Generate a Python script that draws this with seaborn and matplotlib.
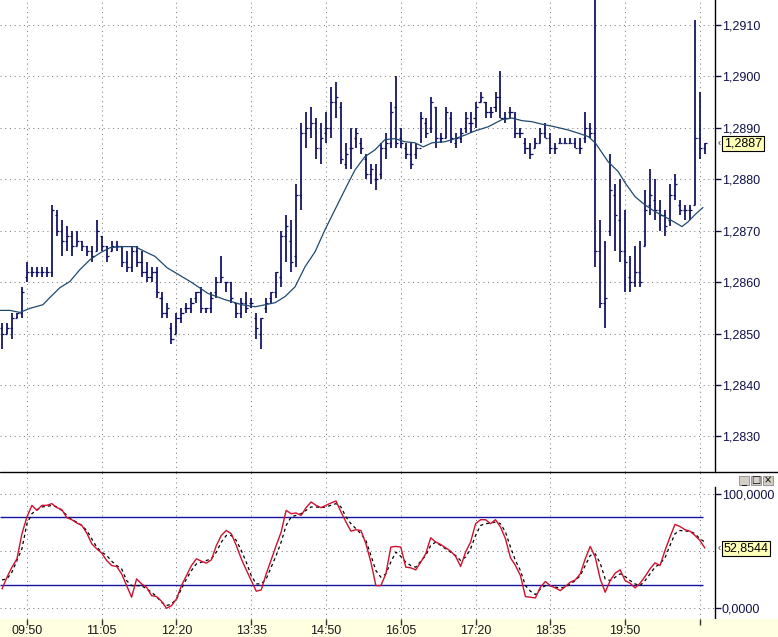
import numpy as np
import pandas as pd
import matplotlib
matplotlib.use("Agg")
import matplotlib.pyplot as plt
import matplotlib.transforms as mtrans
from matplotlib.lines import Line2D
from matplotlib.patches import Rectangle
from matplotlib.ticker import FuncFormatter
import seaborn as sns

# ---------------- data ----------------
highs = [
    1.2852, 1.2852, 1.2854, 1.2854, 1.2859, 1.2864, 1.2863, 1.2863, 1.2863, 1.2863,
    1.2875, 1.2874, 1.2872, 1.2871, 1.2870, 1.2870, 1.2868, 1.2867, 1.2867, 1.2872,
    1.2869, 1.2867, 1.2868, 1.2868, 1.2867, 1.2866, 1.2867, 1.2867, 1.2866, 1.2864,
    1.2863, 1.2863, 1.2858, 1.2856, 1.2852, 1.2854, 1.2855, 1.2856, 1.2857, 1.2858,
    1.2859, 1.2855, 1.2858, 1.2861, 1.2865, 1.2860, 1.2860, 1.2856, 1.2857, 1.2858,
    1.2857, 1.2854, 1.2853, 1.2857, 1.2858, 1.2862, 1.2870, 1.2873, 1.2872, 1.2879,
    1.2891, 1.2893, 1.2894, 1.2892, 1.2891, 1.2893, 1.2898, 1.2899, 1.2895, 1.2887,
    1.2890, 1.2890, 1.2888, 1.2885, 1.2883, 1.2883, 1.2887, 1.2889, 1.2895, 1.2900,
    1.2890, 1.2887, 1.2887, 1.2887, 1.2893, 1.2892, 1.2896, 1.2894, 1.2889, 1.2894,
    1.2893, 1.2889, 1.2890, 1.2893, 1.2893, 1.2895, 1.2897, 1.2895, 1.2894, 1.2897,
    1.2901, 1.2893, 1.2894, 1.2893, 1.2890, 1.2888, 1.2887, 1.2888, 1.2890, 1.2891,
    1.2889, 1.2887, 1.2888, 1.2888, 1.2888, 1.2888, 1.2888, 1.2893, 1.2891, 1.2918,
    1.2872, 1.2868, 1.2885, 1.2879, 1.2880, 1.2874, 1.2865, 1.2867, 1.2868, 1.2878,
    1.2882, 1.2880, 1.2876, 1.2874, 1.2879, 1.2881, 1.2876, 1.2875, 1.2875, 1.2911,
    1.2897, 1.2887,
]
lows = [
    1.2847, 1.2850, 1.2849, 1.2853, 1.2853, 1.2860, 1.2861, 1.2861, 1.2861, 1.2861,
    1.2861, 1.2869, 1.2865, 1.2866, 1.2865, 1.2867, 1.2866, 1.2865, 1.2864, 1.2866,
    1.2866, 1.2864, 1.2866, 1.2866, 1.2863, 1.2862, 1.2862, 1.2863, 1.2861, 1.2860,
    1.2860, 1.2857, 1.2853, 1.2853, 1.2848, 1.2850, 1.2852, 1.2854, 1.2854, 1.2856,
    1.2854, 1.2854, 1.2854, 1.2857, 1.2860, 1.2858, 1.2856, 1.2853, 1.2853, 1.2854,
    1.2855, 1.2849, 1.2847, 1.2854, 1.2856, 1.2857, 1.2859, 1.2864, 1.2862, 1.2863,
    1.2874, 1.2886, 1.2888, 1.2884, 1.2883, 1.2887, 1.2888, 1.2892, 1.2883, 1.2882,
    1.2882, 1.2886, 1.2885, 1.2880, 1.2879, 1.2878, 1.2880, 1.2884, 1.2886, 1.2886,
    1.2886, 1.2884, 1.2882, 1.2884, 1.2887, 1.2888, 1.2889, 1.2886, 1.2887, 1.2888,
    1.2887, 1.2886, 1.2887, 1.2889, 1.2889, 1.2890, 1.2895, 1.2892, 1.2892, 1.2893,
    1.2892, 1.2891, 1.2892, 1.2888, 1.2888, 1.2885, 1.2884, 1.2886, 1.2887, 1.2888,
    1.2885, 1.2885, 1.2887, 1.2887, 1.2887, 1.2886, 1.2885, 1.2887, 1.2888, 1.2863,
    1.2855, 1.2851, 1.2869, 1.2866, 1.2864, 1.2858, 1.2858, 1.2859, 1.2859, 1.2867,
    1.2873, 1.2872, 1.2870, 1.2869, 1.2871, 1.2876, 1.2873, 1.2872, 1.2872, 1.2875,
    1.2884, 1.2885,
]
opens = [
    1.2851, 1.2850, 1.2851, 1.2853, 1.2854, 1.2861, 1.2862, 1.2862, 1.2862, 1.2862,
    1.2862, 1.2873, 1.2870, 1.2868, 1.2869, 1.2867, 1.2868, 1.2867, 1.2866, 1.2866,
    1.2869, 1.2867, 1.2866, 1.2867, 1.2867, 1.2864, 1.2863, 1.2866, 1.2864, 1.2862,
    1.2861, 1.2862, 1.2857, 1.2854, 1.2851, 1.2850, 1.2853, 1.2855, 1.2855, 1.2857,
    1.2858, 1.2855, 1.2855, 1.2858, 1.2860, 1.2860, 1.2860, 1.2856, 1.2854, 1.2856,
    1.2856, 1.2853, 1.2850, 1.2855, 1.2857, 1.2858, 1.2861, 1.2869, 1.2868, 1.2865,
    1.2877, 1.2889, 1.2890, 1.2891, 1.2886, 1.2889, 1.2890, 1.2895, 1.2894, 1.2883,
    1.2886, 1.2888, 1.2887, 1.2884, 1.2881, 1.2880, 1.2881, 1.2886, 1.2887, 1.2894,
    1.2888, 1.2886, 1.2885, 1.2885, 1.2886, 1.2891, 1.2890, 1.2894, 1.2888, 1.2888,
    1.2892, 1.2887, 1.2888, 1.2890, 1.2891, 1.2892, 1.2895, 1.2895, 1.2893, 1.2894,
    1.2896, 1.2892, 1.2893, 1.2892, 1.2889, 1.2887, 1.2886, 1.2886, 1.2887, 1.2889,
    1.2888, 1.2886, 1.2887, 1.2887, 1.2887, 1.2887, 1.2886, 1.2888, 1.2890, 1.2889,
    1.2866, 1.2856, 1.2870, 1.2877, 1.2872, 1.2866, 1.2861, 1.2860, 1.2862, 1.2867,
    1.2875, 1.2876, 1.2874, 1.2873, 1.2872, 1.2877, 1.2875, 1.2874, 1.2874, 1.2875,
    1.2888, 1.2886,
]
closes = [
    1.2850, 1.2851, 1.2853, 1.2854, 1.2858, 1.2862, 1.2862, 1.2862, 1.2862, 1.2862,
    1.2874, 1.2870, 1.2868, 1.2869, 1.2867, 1.2868, 1.2867, 1.2866, 1.2865, 1.2870,
    1.2867, 1.2865, 1.2867, 1.2867, 1.2864, 1.2863, 1.2866, 1.2864, 1.2862, 1.2861,
    1.2862, 1.2858, 1.2854, 1.2855, 1.2849, 1.2853, 1.2854, 1.2855, 1.2856, 1.2858,
    1.2855, 1.2855, 1.2857, 1.2860, 1.2861, 1.2860, 1.2857, 1.2854, 1.2856, 1.2855,
    1.2856, 1.2851, 1.2853, 1.2856, 1.2858, 1.2862, 1.2869, 1.2871, 1.2864, 1.2877,
    1.2889, 1.2890, 1.2891, 1.2886, 1.2888, 1.2890, 1.2895, 1.2896, 1.2884, 1.2885,
    1.2886, 1.2889, 1.2886, 1.2881, 1.2882, 1.2880, 1.2886, 1.2887, 1.2893, 1.2887,
    1.2887, 1.2885, 1.2883, 1.2886, 1.2892, 1.2889, 1.2895, 1.2888, 1.2888, 1.2893,
    1.2888, 1.2888, 1.2889, 1.2892, 1.2891, 1.2894, 1.2896, 1.2893, 1.2893, 1.2896,
    1.2892, 1.2892, 1.2893, 1.2889, 1.2889, 1.2886, 1.2885, 1.2887, 1.2889, 1.2888,
    1.2886, 1.2886, 1.2887, 1.2887, 1.2887, 1.2886, 1.2886, 1.2890, 1.2889, 1.2866,
    1.2856, 1.2857, 1.2878, 1.2873, 1.2866, 1.2864, 1.2860, 1.2862, 1.2860, 1.2874,
    1.2877, 1.2874, 1.2873, 1.2871, 1.2877, 1.2879, 1.2874, 1.2874, 1.2874, 1.2888,
    1.2886, 1.2887,
]

ma_idx = [
    -0.4, 1.6, 3.6, 5.6, 8.2, 9.6, 11.6, 13.6, 15.6, 17.7, 19.7, 21.7, 24.3, 26.7,
    28.3, 30.7, 33.1, 35.7, 38.1, 41.3, 44.7, 48.1, 50.8, 52.8, 54.8, 56.8, 58.8,
    60.8, 62.8, 64.8, 66.8, 68.8, 70.8, 72.8, 74.8, 76.8, 78.8, 80.8, 82.8, 84.5,
    86.3, 88.9, 90.9, 92.9, 94.9, 97.5, 100.3, 102.3, 104.3, 106.3, 107.9, 110.9,
    113.5, 115.5, 117.6, 119.0, 120.4, 121.6, 123.6, 125.0, 127.0, 129.0, 131.0,
    133.0, 135.0, 136.4, 137.6, 139.0, 140.6,
]
ma_vals = [
    1.28545, 1.28545, 1.28541, 1.28549, 1.28556, 1.28570, 1.28589, 1.28601, 1.28624,
    1.28644, 1.28657, 1.28667, 1.28669, 1.28669, 1.28661, 1.28650, 1.28628, 1.28613,
    1.28599, 1.28578, 1.28566, 1.28556, 1.28552, 1.28556, 1.28560, 1.28572, 1.28591,
    1.28630, 1.28659, 1.28702, 1.28741, 1.28780, 1.28818, 1.28844, 1.28857, 1.28877,
    1.28879, 1.28873, 1.28871, 1.28863, 1.28871, 1.28873, 1.28879, 1.28886, 1.28894,
    1.28902, 1.28916, 1.28919, 1.28914, 1.28912, 1.28908, 1.28902, 1.28896, 1.28890,
    1.28883, 1.28871, 1.28851, 1.28834, 1.28815, 1.28793, 1.28766, 1.28750, 1.28737,
    1.28727, 1.28716, 1.28708, 1.28717, 1.28731, 1.28745,
]

stoch_k = [
    17.0, 27.3, 36.1, 43.4, 65.4, 80.1, 90.3, 85.9, 90.3, 90.3,
    91.8, 88.3, 86.5, 79.5, 77.7, 74.8, 72.7, 66.0, 56.6, 52.2,
    48.4, 41.9, 37.5, 36.7, 30.2, 19.9, 9.7, 25.8, 21.4, 18.5,
    11.1, 10.3, 6.2, 0.0, 2.3, 8.2, 19.9, 28.7, 37.5, 43.4,
    41.3, 39.6, 42.5, 55.1, 63.9, 68.3, 65.4, 55.1, 43.4, 33.7,
    24.3, 15.0, 16.1, 30.2, 42.5, 55.1, 66.9, 85.9, 83.0, 83.6,
    81.5, 88.3, 93.3, 90.3, 88.3, 90.3, 92.4, 94.1, 84.5, 75.7,
    67.7, 68.9, 68.3, 56.6, 40.5, 19.9, 19.9, 30.2,
    53.7, 54.3, 53.7, 36.1, 35.5, 33.7, 40.5, 47.8, 61.9, 58.1,
    56.0, 53.1, 50.1, 45.5, 36.7, 49.3, 58.1, 74.2, 77.7, 77.7,
    74.2, 77.7, 71.3, 61.0, 44.3, 37.5, 28.7, 10.3, 9.7, 9.1,
    18.5, 23.5, 19.9, 17.9, 15.5, 19.1, 22.9, 24.9, 30.2, 43.4,
    54.3, 44.9, 25.8, 14.1, 24.3, 30.8, 33.7, 24.3, 22.0, 17.9,
    22.0, 27.9, 34.6, 39.9, 37.5, 50.7, 62.5, 73.6, 71.8, 68.9,
    67.7, 63.9, 59.5, 52.8544,
]
stoch_d = [
    24.9, 25.8, 31.7, 41.9, 52.2, 74.2, 83.0, 86.5, 88.9, 89.4,
    90.3, 88.9, 85.9, 81.5, 77.7, 75.7, 72.7, 68.3, 61.0, 53.7,
    49.3, 46.3, 41.3, 37.5, 34.6, 24.3, 19.9, 19.9, 19.9, 17.0,
    14.1, 10.3, 5.3, 2.3, 3.8, 8.2, 17.0, 25.8, 33.1, 39.0,
    40.5, 41.9, 43.4, 49.3, 58.1, 63.9, 63.9, 59.5, 50.7, 40.5,
    28.7, 21.4, 21.4, 25.8, 36.1, 46.3, 58.1, 72.7, 80.1, 81.5,
    83.0, 85.9, 88.9, 88.9, 88.3, 88.9, 90.3, 91.8, 88.9, 80.1,
    74.2, 69.8, 65.4, 59.5, 46.3, 33.1, 27.3, 30.2,
    40.5, 49.3, 45.5, 40.5, 37.5, 36.1, 41.3, 46.3, 55.1, 58.1,
    55.1, 52.2, 49.3, 46.3, 41.9, 44.9, 52.2, 63.9, 72.7, 74.2,
    74.8, 75.7, 74.2, 66.9, 53.7, 41.9, 33.1, 19.9, 15.0, 12.0,
    17.0, 19.9, 19.9, 18.5, 17.9, 18.5, 21.4, 24.3, 28.7, 37.5,
    46.3, 47.8, 39.6, 25.8, 24.3, 27.3, 30.2, 27.9, 24.3, 21.4,
    19.9, 24.3, 30.2, 36.1, 39.0, 44.3, 55.1, 65.4, 68.3, 67.7,
    67.7, 65.4, 61.0, 58.1,
]

price_ticks = [1.2830, 1.2840, 1.2850, 1.2860, 1.2870, 1.2880, 1.2890, 1.2900, 1.2910]
osc_ticks = [0, 100]
osc_grid = [0, 50, 100]
osc_levels = [20, 80]
time_idx = [5, 20, 35, 50, 65, 80, 95, 110, 125, 140]
time_labels = ["09:50", "11:05", "12:20", "13:35", "14:50", "16:05", "17:20", "18:35", "19:50", ""]
last_price = 1.2887
last_k = 52.8544

# ---------------- styling ----------------
sns.set_theme(style="white")
plt.rcParams["font.family"] = ["Liberation Sans", "DejaVu Sans"]
plt.rcParams["axes.linewidth"] = 1.0

W, H = 778, 637
BAR = "#0b0b62"
MA = "#1f4a70"
AXTXT = "#10104a"
GRID = "#808080"
dot = (0, (1, 3.5))

fig = plt.figure(figsize=(W / 100, H / 100), dpi=100)
fig.patch.set_facecolor("white")

x_lo = (0 - 2) / 4.985
x_hi = (715 - 2) / 4.985
x_hi_full = (778 - 2) / 4.985

def fy(px):
    return 1 - px / H

ax1 = fig.add_axes([0, fy(472), 715 / W, 472 / H])
ax2 = fig.add_axes([0, fy(619), 715 / W, 147 / H])
ax3 = fig.add_axes([0, 0, 1, 18 / H])

comma_fmt = FuncFormatter(lambda v, p: f"{v:.4f}".replace(".", ","))

# ---- main price panel ----
ax1.set_xlim(x_lo, x_hi)
ax1.set_ylim(1.282307, 1.291486)
for t in price_ticks:
    ax1.axhline(t, color=GRID, lw=0.75, ls=dot, zorder=0)
for t in time_idx:
    ax1.axvline(t, color=GRID, lw=0.75, ls=dot, zorder=0)

bars = np.arange(len(highs))
ax1.vlines(bars, lows, highs, color=BAR, lw=1.25, zorder=3)
ax1.hlines(opens, bars - 0.42, bars, color=BAR, lw=0.9, zorder=3)
ax1.hlines(closes, bars, bars + 0.42, color=BAR, lw=0.9, zorder=3)

sns.lineplot(x=ma_idx, y=ma_vals, ax=ax1, color=MA, lw=0.9, sort=False, zorder=4)

ax1.set_yticks(price_ticks)
ax1.yaxis.set_major_formatter(comma_fmt)
ax1.yaxis.tick_right()
ax1.tick_params(axis="y", right=True, left=False, length=4, width=1, color=AXTXT,
                labelcolor=AXTXT, labelsize=9, pad=1)
ax1.set_xticks([])
for s in ["top", "left", "bottom"]:
    ax1.spines[s].set_visible(False)
ax1.spines["right"].set_color("black")
ax1.set_xlabel("")
ax1.set_ylabel("")

tr1 = mtrans.blended_transform_factory(ax1.transAxes, ax1.transData)
ax1.text(1.0125, last_price, "1,2887", transform=tr1, ha="left", va="center",
         fontsize=9, color="black", clip_on=False, zorder=10,
         bbox=dict(boxstyle="square,pad=0.12", fc="#FFFFB8", ec="black", lw=0.8))
ax1.text(1.003, last_price, "\u2039", transform=tr1, ha="left", va="center",
         fontsize=7, color="#333333", clip_on=False)

# ---- oscillator panel ----
ax2.set_xlim(x_lo, x_hi)
ax2.set_ylim(-9.39, 119.56)
for t in osc_grid:
    ax2.axhline(t, color=GRID, lw=0.75, ls=dot, zorder=0)
for t in time_idx:
    ax2.axvline(t, color=GRID, lw=0.75, ls=dot, zorder=0)
ax2.hlines(osc_levels, x_lo, 140.6, color="#1414a0", lw=1.0, zorder=2)

kidx = np.arange(len(stoch_k))
sns.lineplot(x=kidx, y=stoch_d, ax=ax2, color="black", lw=0.9,
             linestyle=(0, (2.5, 2.5)), zorder=3)
sns.lineplot(x=kidx, y=stoch_k, ax=ax2, color="#d0102e", lw=1.0, zorder=4)

ax2.set_yticks(osc_ticks)
ax2.yaxis.set_major_formatter(comma_fmt)
ax2.yaxis.tick_right()
ax2.tick_params(axis="y", right=True, left=False, length=4, width=1, color=AXTXT,
                labelcolor=AXTXT, labelsize=9, pad=1)
ax2.set_xticks([])
for s in ["top", "left", "bottom"]:
    ax2.spines[s].set_visible(False)
ax2.spines["right"].set_color("black")
ax2.spines["right"].set_bounds(-9.39, 106.4)
ax2.set_xlabel("")
ax2.set_ylabel("")

tr2 = mtrans.blended_transform_factory(ax2.transAxes, ax2.transData)
ax2.text(1.0125, last_k, "52,8544", transform=tr2, ha="left", va="center",
         fontsize=9, color="black", clip_on=False, zorder=10,
         bbox=dict(boxstyle="square,pad=0.12", fc="#FFFFB8", ec="black", lw=0.8))
ax2.text(1.003, last_k, "\u2039", transform=tr2, ha="left", va="center",
         fontsize=7, color="#333333", clip_on=False)

# ---- time strip ----
ax3.set_facecolor("#FFFFE1")
ax3.set_xlim(x_lo, x_hi_full)
ax3.set_ylim(0, 1)
ax3.set_xticks(time_idx)
ax3.set_xticklabels([])
ax3.set_yticks([])
ax3.tick_params(axis="x", top=True, bottom=False, direction="in", length=4.5,
                width=1, color="#333333", labelbottom=False)
for s in ax3.spines.values():
    s.set_visible(False)
for t, lab in zip(time_idx, time_labels):
    ax3.text(t, 0.64, lab, ha="center", va="top", fontsize=9, color="#1a1a1a")

# separator line between panels
fig.add_artist(Line2D([0, 1], [fy(472), fy(472)], transform=fig.transFigure,
                      color="black", lw=1.0))

# window buttons of the oscillator pane
for bx, glyph in zip([739, 751, 763], ["_", "\u25a1", "\u00d7"]):
    fig.add_artist(Rectangle((bx / W, fy(485)), 10 / W, 9 / H, transform=fig.transFigure,
                             fc="#d4d0c8", ec="#8a8a8a", lw=0.6))
    fig.text((bx + 5) / W, fy(480.5), glyph, ha="center", va="center",
             fontsize=7, color="black", family=["DejaVu Sans"])

fig.savefig("out.png", dpi=100)
